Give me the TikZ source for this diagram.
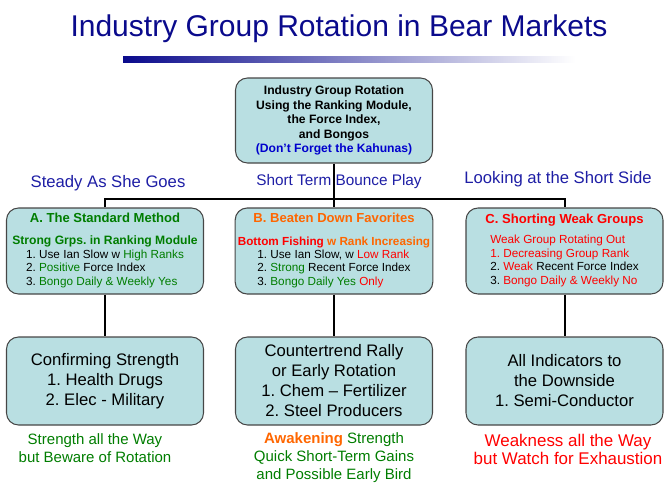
\documentclass[tikz,border=0pt]{standalone}
\usepackage{fontspec}
\setmainfont{Liberation Sans}
\usetikzlibrary{positioning}
\frenchspacing
\definecolor{navy}{RGB}{10,10,140}
\definecolor{labblue}{RGB}{30,30,165}
\definecolor{kblue}{RGB}{0,0,205}
\definecolor{grn}{RGB}{0,125,0}
\definecolor{orng}{RGB}{255,102,0}
\definecolor{redtxt}{RGB}{255,0,0}
\definecolor{boxfill}{RGB}{185,223,226}
\definecolor{boxline}{RGB}{70,70,70}

\begin{document}
\begin{tikzpicture}[x=0.75pt,y=-0.75pt,
  box/.style={draw=boxline, fill=boxfill, rounded corners=9pt, line width=0.8pt,
    minimum width=147.75pt, align=center, inner sep=2pt},
  midbox/.style={box, minimum height=64.5pt, font=\fontsize{8.8}{10.1}\selectfont},
  lowbox/.style={box, minimum height=66pt, font=\fontsize{12.5}{15}\selectfont},
  conn/.style={line width=1.5pt},
  heading/.style={text=labblue, font=\fontsize{12.5}{14}\selectfont},
  remark/.style={align=center, font=\fontsize{11.25}{13.5}\selectfont}]
\useasboundingbox (0,0) rectangle (672,489);

% title and bar
\node[text=navy, font=\fontsize{22.5}{26}\selectfont] (title) at (339,29) {Industry Group Rotation in Bear Markets};
\shade[left color=navy, middle color=navy!28, right color=white] (123,56) rectangle (575,62);

% top box
\node[box, minimum height=63.75pt, font=\bfseries\fontsize{9.1}{10.9}\selectfont] (top) at (334,120.5)
  {Industry Group Rotation\\Using the Ranking Module,\\the Force Index,\\and Bongos\\\textcolor{kblue}{(Don't Forget the Kahunas)}};

% headings
\node[heading] (hA) at (108,183) {Steady As She Goes};
\node[heading, font=\fontsize{11.5}{13}\selectfont] (hB) at (339,182) {Short Term Bounce Play};
\node[heading] (hC) at (558,179) {Looking at the Short Side};

% middle row
\node[midbox] (mA) at (105,251)
  {{\bfseries\fontsize{9.8}{11}\selectfont\color{grn}A. The Standard Method}\\[7pt]
   {\bfseries\fontsize{9.1}{10}\selectfont\color{grn}Strong Grps. in Ranking Module}\\
   \begin{tabular}{@{}l@{}}
   1. Use Ian Slow w \textcolor{grn}{High Ranks}\\
   2. \textcolor{grn}{Positive} Force Index\\
   3. \textcolor{grn}{Bongo Daily \& Weekly Yes}
   \end{tabular}};
\node[midbox] (mB) at (334,251)
  {{\bfseries\fontsize{9.8}{11}\selectfont\color{orng}B. Beaten Down Favorites}\\[7pt]
   {\bfseries\fontsize{8.8}{10}\selectfont\color{redtxt}Bottom Fishing \color{orng}w Rank Increasing}\\
   \begin{tabular}{@{}l@{}}
   1. Use Ian Slow, w \textcolor{redtxt}{Low Rank}\\
   2. \textcolor{grn}{Strong} Recent Force Index\\
   3. \textcolor{grn}{Bongo Daily Yes} \textcolor{redtxt}{Only}
   \end{tabular}};
\node[midbox] (mC) at (564.5,251)
  {{\bfseries\fontsize{9.8}{11}\selectfont\color{redtxt}C. Shorting Weak Groups}\\[5pt]
   \begin{tabular}{@{}l@{}}
   \textcolor{redtxt}{Weak Group Rotating Out}\\
   \textcolor{redtxt}{1. Decreasing Group Rank}\\
   2. \textcolor{redtxt}{Weak} Recent Force Index\\
   3. \textcolor{redtxt}{Bongo Daily \& Weekly No}
   \end{tabular}};

% bottom row
\node[lowbox] (lA) at (105,381) {Confirming Strength\\1. Health Drugs\\2. Elec - Military};
\node[lowbox] (lB) at (334,381) {Countertrend Rally\\or Early Rotation\\1. Chem -- Fertilizer\\2. Steel Producers};
\node[lowbox] (lC) at (564.5,381) {All Indicators to\\the Downside\\1. Semi-Conductor};

% connectors
\coordinate (split) at (334,199);
\draw[conn] (top) -- (mB);
\draw[conn] (mA.north) |- (split) -| (mC.north);
\draw[conn] (mA) -- (lA);
\draw[conn] (mB) -- (lB);
\draw[conn] (mC) -- (lC);

% remarks
\node[remark, text=grn] (rA) at (95,448.5) {Strength all the Way\\but Beware of Rotation};
\node[remark, text=grn] (rB) at (334,457.5)
  {\textcolor{orng}{\bfseries Awakening} Strength\\Quick Short-Term Gains\\and Possible Early Bird};
\node[remark, text=redtxt, font=\fontsize{12.7}{14}\selectfont] (rC) at (568,449.5)
  {Weakness all the Way\\but Watch for Exhaustion};
\end{tikzpicture}
\end{document}
